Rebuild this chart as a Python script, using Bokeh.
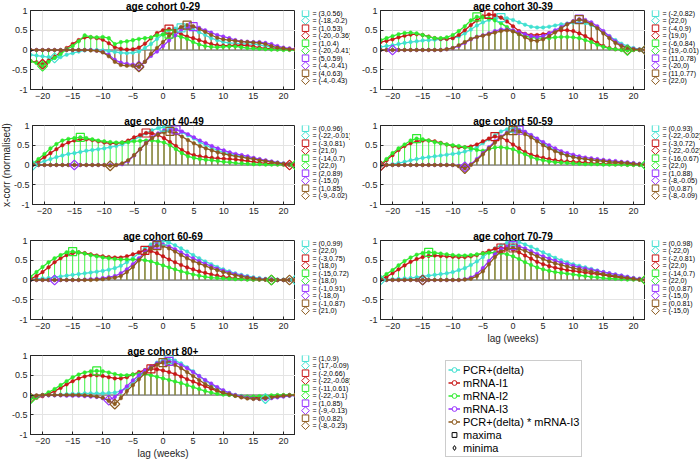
from bokeh.plotting import figure
from bokeh.layouts import row, column
from bokeh.models import (Range1d, FixedTicker, NumeralTickFormatter, Span, ColumnDataSource,
                          Legend, LegendItem, Title)
from bokeh.core.properties import value
from bokeh.embed import file_html
from bokeh.resources import INLINE

FONT = "Liberation Sans"
LAGS = list(range(-22, 23))
COHORTS = ["0-29", "30-39", "40-49", "50-59", "60-69", "70-79", "80+"]
SERIES = ["PCR+(delta)", "mRNA-I1", "mRNA-I2", "mRNA-I3", "PCR+(delta) * mRNA-I3"]
COLORS = ["#40E0D0", "#C81818", "#2EEB2E", "#9933FF", "#8C5A1E"]
STEM_COLORS = {2: "#44F044", 4: "#9A7442"}
STEM_WIDTHS = {2: 1.0, 4: 1.4}
X_TICKS = [-20, -15, -10, -5, 0, 5, 10, 15, 20]
Y_TICKS = [-1, -0.5, 0, 0.5, 1]

# ---------------- cohort 0-29 ----------------
pcr_0_29 = [-0.12, -0.14, -0.16, -0.18, -0.20, -0.18, -0.12, -0.08, -0.04, -0.01, 0.0, 0.0, -0.01, -0.03, -0.05,
            -0.07, -0.08, -0.07, -0.04, 0.05, 0.15, 0.28, 0.40, 0.50, 0.54, 0.56, 0.55, 0.52, 0.45, 0.38,
            0.30, 0.25, 0.20, 0.18, 0.17, 0.16, 0.15, 0.15, 0.13, 0.10, 0.07, 0.05, 0.03, 0.02, 0.01]
i1_0_29 = [-0.28, -0.31, -0.36, -0.27, -0.17, -0.06, 0.05, 0.15, 0.25, 0.32, 0.32, 0.30, 0.26, 0.17, 0.07,
           0.03, 0.01, 0.02, 0.06, 0.16, 0.30, 0.43, 0.50, 0.53, 0.48, 0.40, 0.34, 0.30, 0.25, 0.20,
           0.15, 0.12, 0.11, 0.11, 0.12, 0.12, 0.11, 0.09, 0.06, 0.04, 0.03, 0.02, 0.02, 0.02, 0.02]
i2_0_29 = [-0.28, -0.33, -0.41, -0.30, -0.20, -0.10, 0.02, 0.10, 0.22, 0.37, 0.33, 0.32, 0.33, 0.30, 0.15,
           0.20, 0.22, 0.25, 0.28, 0.30, 0.32, 0.37, 0.39, 0.40, 0.37, 0.33, 0.28, 0.20, 0.14, 0.10,
           0.08, 0.07, 0.08, 0.09, 0.09, 0.07, 0.05, 0.04, 0.03, 0.02, 0.01, 0.01, 0.0, 0.0, 0.0]
i3_0_29 = [0.0, 0.0, 0.0, 0.0, 0.0, 0.0, 0.0, 0.0, 0.0, 0.0, 0.0, -0.02, -0.05, -0.12, -0.25,
           -0.32, -0.35, -0.37, -0.41, -0.30, -0.15, -0.04, 0.10, 0.24, 0.37, 0.50, 0.57, 0.59, 0.56, 0.50,
           0.44, 0.38, 0.34, 0.30, 0.25, 0.22, 0.21, 0.20, 0.20, 0.18, 0.15, 0.10, 0.06, 0.04, 0.02]
prod_0_29 = [0.0, 0.0, 0.0, 0.0, 0.0, 0.0, 0.0, 0.0, 0.0, 0.0, -0.01, -0.02, -0.06, -0.16, -0.30,
             -0.38, -0.40, -0.40, -0.43, -0.30, -0.10, 0.05, 0.20, 0.35, 0.48, 0.58, 0.63, 0.60, 0.53, 0.46,
             0.38, 0.31, 0.27, 0.25, 0.23, 0.21, 0.20, 0.19, 0.18, 0.15, 0.10, 0.06, 0.04, 0.02, 0.01]
max_lag_0_29 = [3, 1, 1, 5, 4]
max_val_0_29 = [0.56, 0.53, 0.4, 0.59, 0.63]
min_lag_0_29 = [-18, -20, -20, -4, -4]
min_val_0_29 = [-0.2, -0.36, -0.41, -0.41, -0.43]

# ---------------- cohort 30-39 ----------------
pcr_30_39 = [0.08, 0.10, 0.12, 0.15, 0.18, 0.20, 0.22, 0.24, 0.25, 0.26, 0.27, 0.28, 0.30, 0.34, 0.42,
             0.52, 0.62, 0.70, 0.76, 0.80, 0.82, 0.80, 0.76, 0.70, 0.64, 0.59, 0.57, 0.57, 0.59, 0.62,
             0.65, 0.67, 0.69, 0.70, 0.68, 0.63, 0.55, 0.45, 0.35, 0.25, 0.16, 0.10, 0.05, 0.02, 0.0]
i1_30_39 = [0.20, 0.23, 0.27, 0.32, 0.36, 0.39, 0.40, 0.38, 0.34, 0.30, 0.28, 0.28, 0.30, 0.38, 0.50,
            0.63, 0.75, 0.85, 0.90, 0.88, 0.82, 0.72, 0.60, 0.48, 0.41, 0.38, 0.38, 0.40, 0.43, 0.47,
            0.50, 0.50, 0.48, 0.42, 0.35, 0.27, 0.18, 0.10, 0.05, 0.02, 0.01, 0.0, 0.0, 0.0, 0.0]
i2_30_39 = [0.25, 0.30, 0.35, 0.40, 0.43, 0.44, 0.42, 0.38, 0.33, 0.30, 0.30, 0.32, 0.38, 0.48, 0.60,
            0.75, 0.84, 0.83, 0.80, 0.75, 0.68, 0.58, 0.48, 0.40, 0.35, 0.32, 0.30, 0.30, 0.30, 0.32,
            0.33, 0.33, 0.32, 0.30, 0.25, 0.20, 0.13, 0.08, 0.04, 0.02, 0.0, -0.01, 0.0, 0.0, 0.0]
i3_30_39 = [0.0, 0.0, 0.0, 0.0, 0.0, 0.0, 0.0, 0.0, 0.0, 0.0, 0.0, 0.02, 0.05, 0.10, 0.18,
            0.27, 0.33, 0.37, 0.42, 0.48, 0.52, 0.52, 0.50, 0.45, 0.40, 0.35, 0.33, 0.35, 0.42, 0.50,
            0.58, 0.66, 0.73, 0.78, 0.76, 0.70, 0.60, 0.48, 0.35, 0.22, 0.12, 0.06, 0.03, 0.01, 0.0]
prod_30_39 = [0.0, 0.0, 0.0, 0.0, 0.0, 0.0, 0.0, 0.0, 0.0, 0.0, 0.0, 0.02, 0.05, 0.12, 0.20,
              0.28, 0.33, 0.36, 0.40, 0.44, 0.48, 0.50, 0.47, 0.40, 0.32, 0.25, 0.23, 0.27, 0.35, 0.45,
              0.55, 0.65, 0.72, 0.77, 0.73, 0.65, 0.55, 0.42, 0.30, 0.18, 0.10, 0.05, 0.02, 0.01, 0.0]
max_lag_30_39 = [-2, -4, -6, 11, 11]
max_val_30_39 = [0.82, 0.9, 0.84, 0.78, 0.77]
min_lag_30_39 = [22, 19, 19, -20, 22]
min_val_30_39 = [0.0, 0.0, -0.01, 0.0, 0.0]

# ---------------- cohort 40-49 ----------------
pcr_40_49 = [-0.01, 0.05, 0.10, 0.15, 0.20, 0.24, 0.28, 0.30, 0.33, 0.36, 0.38, 0.40, 0.42, 0.45, 0.48,
             0.52, 0.58, 0.65, 0.72, 0.80, 0.88, 0.93, 0.96, 0.95, 0.90, 0.83, 0.75, 0.67, 0.58, 0.50,
             0.43, 0.37, 0.32, 0.28, 0.25, 0.22, 0.19, 0.16, 0.13, 0.10, 0.08, 0.06, 0.04, 0.02, 0.01]
i1_40_49 = [0.02, 0.10, 0.20, 0.30, 0.40, 0.50, 0.57, 0.62, 0.65, 0.65, 0.63, 0.60, 0.57, 0.55, 0.55,
            0.57, 0.62, 0.70, 0.76, 0.81, 0.80, 0.76, 0.68, 0.58, 0.48, 0.38, 0.30, 0.25, 0.22, 0.20,
            0.18, 0.17, 0.16, 0.15, 0.14, 0.12, 0.10, 0.08, 0.06, 0.04, 0.03, 0.02, 0.01, 0.0, 0.01]
i2_40_49 = [0.03, 0.15, 0.28, 0.42, 0.53, 0.62, 0.66, 0.68, 0.70, 0.68, 0.65, 0.62, 0.60, 0.58, 0.57,
            0.57, 0.58, 0.60, 0.61, 0.62, 0.62, 0.60, 0.57, 0.50, 0.40, 0.30, 0.22, 0.18, 0.15, 0.13,
            0.12, 0.10, 0.08, 0.07, 0.05, 0.04, 0.03, 0.02, 0.02, 0.01, 0.01, 0.01, 0.01, 0.01, 0.0]
i3_40_49 = [0.0, 0.0, 0.0, 0.0, 0.0, 0.0, 0.0, 0.0, 0.0, 0.0, 0.0, 0.0, 0.0, 0.0, 0.0,
            0.02, 0.10, 0.24, 0.40, 0.56, 0.70, 0.80, 0.87, 0.88, 0.89, 0.85, 0.78, 0.70, 0.62, 0.55,
            0.48, 0.42, 0.37, 0.32, 0.28, 0.25, 0.22, 0.18, 0.15, 0.12, 0.09, 0.06, 0.04, 0.02, 0.01]
prod_40_49 = [0.0, 0.0, 0.0, 0.0, 0.0, 0.0, 0.0, 0.0, 0.0, 0.0, 0.0, 0.0, 0.0, -0.02, 0.0,
              0.04, 0.12, 0.25, 0.40, 0.55, 0.68, 0.78, 0.83, 0.85, 0.80, 0.72, 0.63, 0.55, 0.48, 0.42,
              0.37, 0.32, 0.28, 0.25, 0.22, 0.20, 0.17, 0.15, 0.12, 0.10, 0.07, 0.05, 0.03, 0.02, 0.01]
max_lag_40_49 = [0, -3, -14, 2, 1]
max_val_40_49 = [0.96, 0.81, 0.7, 0.89, 0.85]
min_lag_40_49 = [-22, 21, 22, -15, -9]
min_val_40_49 = [-0.01, 0.0, 0.0, 0.0, -0.02]

# ---------------- cohort 50-59 ----------------
pcr_50_59 = [-0.02, 0.0, 0.02, 0.05, 0.08, 0.12, 0.15, 0.18, 0.20, 0.22, 0.24, 0.26, 0.28, 0.30, 0.34,
             0.38, 0.45, 0.55, 0.65, 0.75, 0.85, 0.90, 0.93, 0.90, 0.83, 0.75, 0.65, 0.55, 0.45, 0.37,
             0.30, 0.25, 0.21, 0.18, 0.15, 0.13, 0.11, 0.10, 0.08, 0.07, 0.06, 0.05, 0.04, 0.02, 0.01]
i1_50_59 = [-0.02, 0.12, 0.25, 0.38, 0.48, 0.55, 0.60, 0.62, 0.62, 0.60, 0.56, 0.52, 0.48, 0.45, 0.45,
            0.47, 0.52, 0.60, 0.67, 0.72, 0.70, 0.62, 0.52, 0.42, 0.33, 0.26, 0.22, 0.18, 0.15, 0.12,
            0.10, 0.09, 0.08, 0.07, 0.06, 0.05, 0.04, 0.03, 0.03, 0.02, 0.02, 0.01, 0.01, 0.01, 0.0]
i2_50_59 = [0.01, 0.15, 0.30, 0.42, 0.52, 0.62, 0.67, 0.65, 0.62, 0.58, 0.55, 0.52, 0.50, 0.48, 0.45,
            0.42, 0.38, 0.36, 0.40, 0.44, 0.45, 0.43, 0.40, 0.33, 0.27, 0.20, 0.15, 0.12, 0.09, 0.07,
            0.06, 0.05, 0.04, 0.03, 0.02, 0.02, 0.02, 0.01, 0.01, 0.01, 0.01, 0.0, 0.0, 0.0, 0.0]
i3_50_59 = [0.0, 0.0, 0.0, 0.0, 0.0, 0.0, 0.0, 0.0, 0.0, 0.0, 0.0, 0.0, 0.0, -0.02, -0.05,
            0.02, 0.15, 0.30, 0.45, 0.60, 0.72, 0.82, 0.87, 0.88, 0.84, 0.76, 0.67, 0.58, 0.50, 0.42,
            0.35, 0.30, 0.26, 0.22, 0.19, 0.17, 0.15, 0.13, 0.11, 0.10, 0.08, 0.07, 0.05, 0.03, 0.02]
prod_50_59 = [0.0, 0.0, 0.0, 0.0, 0.0, 0.0, 0.0, 0.0, 0.0, 0.0, 0.0, 0.0, 0.0, -0.03, -0.09,
              0.0, 0.12, 0.27, 0.42, 0.57, 0.70, 0.80, 0.87, 0.85, 0.78, 0.70, 0.60, 0.50, 0.42, 0.35,
              0.29, 0.24, 0.20, 0.17, 0.15, 0.13, 0.11, 0.10, 0.08, 0.07, 0.06, 0.05, 0.03, 0.02, 0.01]
max_lag_50_59 = [0, -3, -16, 1, 0]
max_val_50_59 = [0.93, 0.72, 0.67, 0.88, 0.87]
min_lag_50_59 = [-22, -22, 22, -8, -8]
min_val_50_59 = [-0.02, -0.02, 0.0, -0.05, -0.09]

# ---------------- cohort 60-69 ----------------
pcr_60_69 = [0.02, 0.03, 0.04, 0.05, 0.07, 0.09, 0.11, 0.13, 0.15, 0.17, 0.19, 0.21, 0.23, 0.26, 0.30,
             0.36, 0.45, 0.55, 0.68, 0.80, 0.90, 0.96, 0.99, 0.95, 0.88, 0.80, 0.72, 0.63, 0.55, 0.47,
             0.40, 0.33, 0.27, 0.22, 0.17, 0.13, 0.10, 0.07, 0.05, 0.03, 0.02, 0.01, 0.01, 0.01, 0.0]
i1_60_69 = [0.03, 0.10, 0.20, 0.32, 0.45, 0.55, 0.63, 0.68, 0.70, 0.68, 0.65, 0.62, 0.60, 0.58, 0.57,
            0.57, 0.60, 0.65, 0.70, 0.75, 0.73, 0.68, 0.60, 0.52, 0.45, 0.38, 0.32, 0.27, 0.22, 0.18,
            0.14, 0.11, 0.08, 0.06, 0.04, 0.03, 0.02, 0.01, 0.01, 0.01, 0.0, 0.0, 0.0, 0.0, 0.0]
i2_60_69 = [0.08, 0.20, 0.33, 0.45, 0.55, 0.63, 0.70, 0.72, 0.70, 0.67, 0.63, 0.60, 0.57, 0.55, 0.53,
            0.52, 0.52, 0.52, 0.52, 0.50, 0.47, 0.42, 0.37, 0.32, 0.27, 0.22, 0.18, 0.14, 0.11, 0.08,
            0.06, 0.05, 0.04, 0.03, 0.02, 0.02, 0.01, 0.01, 0.01, 0.01, 0.0, 0.0, 0.0, 0.0, 0.0]
i3_60_69 = [0.0, 0.0, 0.0, 0.0, 0.0, 0.0, 0.0, 0.0, 0.0, 0.01, 0.02, 0.03, 0.05, 0.07, 0.10,
            0.17, 0.27, 0.40, 0.55, 0.70, 0.82, 0.91, 0.90, 0.85, 0.78, 0.70, 0.62, 0.55, 0.48, 0.41,
            0.35, 0.29, 0.24, 0.19, 0.15, 0.11, 0.08, 0.05, 0.03, 0.02, 0.01, 0.0, 0.0, 0.0, 0.0]
prod_60_69 = [0.0, 0.0, 0.0, 0.0, 0.0, 0.0, 0.0, 0.0, 0.0, 0.0, 0.0, 0.01, 0.02, 0.04, 0.06,
              0.10, 0.20, 0.33, 0.50, 0.67, 0.80, 0.87, 0.86, 0.80, 0.72, 0.63, 0.55, 0.48, 0.42, 0.36,
              0.30, 0.25, 0.20, 0.16, 0.12, 0.09, 0.06, 0.04, 0.02, 0.01, 0.0, 0.0, 0.0, 0.0, 0.0]
max_lag_60_69 = [0, -3, -15, -1, -1]
max_val_60_69 = [0.99, 0.75, 0.72, 0.91, 0.87]
min_lag_60_69 = [22, 18, 18, -18, 21]
min_val_60_69 = [0.0, 0.0, 0.0, 0.0, 0.0]

# ---------------- cohort 70-79 ----------------
pcr_70_79 = [0.0, 0.01, 0.02, 0.03, 0.04, 0.05, 0.07, 0.09, 0.11, 0.13, 0.15, 0.17, 0.20, 0.25, 0.30,
             0.38, 0.47, 0.58, 0.70, 0.80, 0.88, 0.94, 0.98, 0.96, 0.90, 0.84, 0.77, 0.70, 0.63, 0.56,
             0.50, 0.45, 0.40, 0.36, 0.32, 0.28, 0.24, 0.20, 0.17, 0.14, 0.11, 0.08, 0.05, 0.03, 0.01]
i1_70_79 = [0.02, 0.08, 0.17, 0.27, 0.37, 0.46, 0.53, 0.58, 0.61, 0.62, 0.61, 0.60, 0.59, 0.58, 0.58,
            0.60, 0.63, 0.68, 0.74, 0.79, 0.81, 0.80, 0.76, 0.70, 0.62, 0.54, 0.46, 0.40, 0.35, 0.31,
            0.28, 0.25, 0.23, 0.21, 0.19, 0.17, 0.15, 0.13, 0.10, 0.08, 0.06, 0.04, 0.02, 0.01, 0.0]
i2_70_79 = [0.05, 0.15, 0.25, 0.37, 0.48, 0.57, 0.64, 0.68, 0.70, 0.69, 0.67, 0.65, 0.63, 0.62, 0.62,
            0.63, 0.65, 0.67, 0.69, 0.69, 0.68, 0.65, 0.60, 0.53, 0.45, 0.38, 0.32, 0.27, 0.23, 0.20,
            0.18, 0.16, 0.14, 0.12, 0.10, 0.08, 0.07, 0.05, 0.04, 0.03, 0.02, 0.01, 0.01, 0.01, 0.0]
i3_70_79 = [0.0, 0.0, 0.0, 0.0, 0.0, 0.0, 0.0, 0.0, 0.0, 0.0, 0.0, 0.0, 0.0, 0.0, 0.02,
            0.06, 0.15, 0.30, 0.48, 0.65, 0.78, 0.85, 0.87, 0.85, 0.80, 0.73, 0.66, 0.60, 0.54, 0.49,
            0.44, 0.40, 0.36, 0.32, 0.29, 0.26, 0.23, 0.20, 0.17, 0.14, 0.11, 0.08, 0.05, 0.03, 0.01]
prod_70_79 = [0.0, 0.0, 0.0, 0.0, 0.0, 0.0, 0.0, 0.0, 0.0, 0.0, 0.0, 0.0, 0.0, 0.0, 0.01,
              0.03, 0.10, 0.22, 0.40, 0.58, 0.72, 0.79, 0.81, 0.79, 0.74, 0.67, 0.60, 0.53, 0.47, 0.42,
              0.38, 0.34, 0.30, 0.27, 0.24, 0.21, 0.18, 0.15, 0.12, 0.10, 0.07, 0.05, 0.03, 0.01, 0.0]
max_lag_70_79 = [0, -2, -14, 0, 0]
max_val_70_79 = [0.98, 0.81, 0.7, 0.87, 0.81]
min_lag_70_79 = [-22, 22, 22, -15, -15]
min_val_70_79 = [0.0, 0.0, 0.0, 0.0, 0.0]

# ---------------- cohort 80+ ----------------
pcr_80 = [-0.05, -0.03, -0.01, 0.0, 0.0, 0.01, 0.02, 0.03, 0.03, 0.04, 0.04, 0.04, 0.04, 0.05, 0.06,
          0.10, 0.18, 0.30, 0.45, 0.60, 0.72, 0.82, 0.88, 0.90, 0.87, 0.80, 0.70, 0.60, 0.48, 0.37,
          0.27, 0.18, 0.11, 0.05, 0.0, -0.03, -0.06, -0.08, -0.08, -0.09, -0.07, -0.05, -0.03, -0.02, -0.01]
i1_80 = [-0.08, -0.07, -0.03, 0.03, 0.10, 0.18, 0.27, 0.35, 0.42, 0.47, 0.50, 0.50, 0.48, 0.45, 0.42,
         0.42, 0.45, 0.52, 0.58, 0.63, 0.66, 0.65, 0.62, 0.58, 0.53, 0.47, 0.40, 0.34, 0.28, 0.22,
         0.16, 0.10, 0.05, 0.01, -0.02, -0.05, -0.07, -0.07, -0.07, -0.06, -0.04, -0.02, -0.01, 0.0, 0.0]
i2_80 = [-0.10, -0.06, 0.0, 0.07, 0.15, 0.25, 0.35, 0.45, 0.52, 0.57, 0.60, 0.61, 0.60, 0.57, 0.53,
         0.50, 0.50, 0.52, 0.54, 0.53, 0.50, 0.46, 0.42, 0.38, 0.34, 0.30, 0.25, 0.20, 0.15, 0.10,
         0.06, 0.03, 0.01, 0.0, -0.02, -0.03, -0.04, -0.04, -0.03, -0.02, -0.01, 0.0, 0.0, 0.0, 0.0]
i3_80 = [-0.03, -0.02, -0.01, -0.01, -0.01, -0.01, -0.02, -0.02, -0.02, -0.03, -0.04, -0.05, -0.08, -0.13, -0.05,
         0.08, 0.22, 0.37, 0.50, 0.62, 0.72, 0.80, 0.84, 0.85, 0.82, 0.76, 0.68, 0.58, 0.48, 0.38,
         0.29, 0.20, 0.12, 0.05, 0.0, -0.04, -0.07, -0.09, -0.10, -0.10, -0.08, -0.06, -0.04, -0.02, -0.01]
prod_80 = [-0.02, -0.01, 0.0, 0.0, 0.0, 0.0, 0.0, 0.0, 0.0, -0.01, -0.02, -0.04, -0.07, -0.15, -0.23,
           -0.08, 0.10, 0.25, 0.40, 0.55, 0.68, 0.77, 0.82, 0.81, 0.76, 0.68, 0.58, 0.48, 0.38, 0.28,
           0.20, 0.12, 0.06, 0.02, -0.02, -0.06, -0.09, -0.10, -0.10, -0.08, -0.06, -0.04, -0.02, -0.01, 0.0]
max_lag_80 = [1, -2, -11, 1, 0]
max_val_80 = [0.9, 0.66, 0.61, 0.85, 0.82]
min_lag_80 = [17, -22, -22, -9, -8]
min_val_80 = [-0.09, -0.08, -0.1, -0.13, -0.23]

DATA = {
    "0-29": [pcr_0_29, i1_0_29, i2_0_29, i3_0_29, prod_0_29],
    "30-39": [pcr_30_39, i1_30_39, i2_30_39, i3_30_39, prod_30_39],
    "40-49": [pcr_40_49, i1_40_49, i2_40_49, i3_40_49, prod_40_49],
    "50-59": [pcr_50_59, i1_50_59, i2_50_59, i3_50_59, prod_50_59],
    "60-69": [pcr_60_69, i1_60_69, i2_60_69, i3_60_69, prod_60_69],
    "70-79": [pcr_70_79, i1_70_79, i2_70_79, i3_70_79, prod_70_79],
    "80+": [pcr_80, i1_80, i2_80, i3_80, prod_80],
}
EXTREMA = {
    "0-29": (max_lag_0_29, max_val_0_29, min_lag_0_29, min_val_0_29),
    "30-39": (max_lag_30_39, max_val_30_39, min_lag_30_39, min_val_30_39),
    "40-49": (max_lag_40_49, max_val_40_49, min_lag_40_49, min_val_40_49),
    "50-59": (max_lag_50_59, max_val_50_59, min_lag_50_59, min_val_50_59),
    "60-69": (max_lag_60_69, max_val_60_69, min_lag_60_69, min_val_60_69),
    "70-79": (max_lag_70_79, max_val_70_79, min_lag_70_79, min_val_70_79),
    "80+": (max_lag_80, max_val_80, min_lag_80, min_val_80),
}

DIAMOND_ANGLE = 0.785398
FRAME_H = 79
TOP = 10
NAN = float("nan")


def fmt(v):
    s = f"{round(v, 2):g}"
    return "0" if s == "-0" else s


def make_panel(cohort, height, bottom, xlabel=None, ylabel=None):
    p = figure(width=295, height=height, x_range=Range1d(-22, 22), y_range=Range1d(-1, 1),
               output_backend="svg", toolbar_location=None,
               min_border_left=30, min_border_right=0, min_border_top=TOP, min_border_bottom=bottom)
    p.title.text = "age cohort " + cohort
    p.title.text_font = FONT
    p.title.text_font_size = "10px"
    p.title.text_font_style = "bold"
    p.title.text_color = "#000000"
    p.title.align = "center"
    p.title.standoff = -3
    p.outline_line_color = "#262626"
    p.outline_line_alpha = 1
    p.background_fill_color = "white"
    p.border_fill_color = "white"
    p.xaxis.ticker = FixedTicker(ticks=X_TICKS)
    p.yaxis.ticker = FixedTicker(ticks=Y_TICKS)
    p.yaxis.formatter = NumeralTickFormatter(format="0.[0]")
    for ax in (p.xaxis, p.yaxis):
        ax.major_tick_in = 3
        ax.major_tick_out = 0
        ax.minor_tick_line_color = None
        ax.axis_line_color = "#262626"
        ax.major_tick_line_color = "#262626"
        ax.major_label_text_font = FONT
        ax.major_label_text_font_size = "9px"
        ax.major_label_text_color = "#262626"
        ax.major_label_standoff = 3
    p.xgrid.grid_line_color = "#E4E4E4"
    p.ygrid.grid_line_color = "#E4E4E4"
    if xlabel:
        p.add_layout(Title(text=xlabel, align="center", text_font=FONT, text_font_size="10px",
                           text_font_style="normal", text_color="#262626", standoff=-1), "below")
    if ylabel:
        p.add_layout(Title(text=ylabel, align="center", text_font=FONT, text_font_size="10px",
                           text_font_style="normal", text_color="#262626", standoff=-3), "left")

    series = DATA[cohort]
    for j in (2, 4):
        src = ColumnDataSource(dict(lag=LAGS, v=series[j]))
        p.segment(x0="lag", y0=0, x1="lag", y1="v", source=src,
                  line_color=STEM_COLORS[j], line_width=STEM_WIDTHS[j])
    p.add_layout(Span(location=0, dimension="width", line_color="#555555", line_width=1, level="underlay"))
    for j in range(5):
        src = ColumnDataSource(dict(lag=LAGS, v=series[j]))
        p.line("lag", "v", source=src, line_color=COLORS[j], line_width=1.3)
        p.scatter("lag", "v", source=src, marker="circle", size=3.6,
                  fill_color=COLORS[j], line_color=COLORS[j], line_width=0.5)
    mx_l, mx_v, mn_l, mn_v = EXTREMA[cohort]
    for j in range(5):
        p.scatter([mx_l[j]], [mx_v[j]], marker="square", size=8, fill_color=None,
                  line_color=COLORS[j], line_width=1.2)
        p.scatter([mn_l[j]], [mn_v[j]], marker="square", angle=DIAMOND_ANGLE, size=7, fill_color=None,
                  line_color=COLORS[j], line_width=1.2)
    return p


def make_side_legend(cohort, height, bottom):
    lg = figure(width=55, height=height, x_range=Range1d(0, 55), y_range=Range1d(FRAME_H, 0),
                output_backend="svg", toolbar_location=None,
                min_border_left=0, min_border_right=0, min_border_top=TOP, min_border_bottom=bottom,
                x_axis_location=None, y_axis_location=None)
    lg.grid.visible = False
    lg.outline_line_color = None
    mx_l, mx_v, mn_l, mn_v = EXTREMA[cohort]
    ys, labels = [], []
    for j in range(5):
        y_max = 2.7 + 15.0 * j
        y_min = y_max + 7.5
        lg.scatter([10], [y_max], marker="square", size=6.5, fill_color=None,
                   line_color=COLORS[j], line_width=1)
        lg.scatter([10], [y_min], marker="square", angle=DIAMOND_ANGLE, size=5.5, fill_color=None,
                   line_color=COLORS[j], line_width=1)
        ys += [y_max, y_min]
        labels += [f"= ({mx_l[j]},{fmt(mx_v[j])})", f"= ({mn_l[j]},{fmt(mn_v[j])})"]
    lg.text(x=[17] * len(ys), y=ys, text=labels, text_font=value(FONT), text_font_size="7px",
            text_baseline="middle", text_align="left", text_color="#000000")
    return lg


def make_main_legend(height):
    f = figure(width=350, height=height, x_range=Range1d(0, 1), y_range=Range1d(0, 1),
               output_backend="svg", toolbar_location=None, min_border=0, frame_align=False,
               x_axis_location=None, y_axis_location=None)
    f.grid.visible = False
    f.outline_line_color = None
    items = []
    for j in range(5):
        r1 = f.line(x=[NAN], y=[NAN], line_color=COLORS[j], line_width=1.5)
        r2 = f.scatter(x=[NAN], y=[NAN], marker="circle", size=4, fill_color="white",
                       line_color=COLORS[j], line_width=1)
        items.append(LegendItem(label=SERIES[j], renderers=[r1, r2]))
    rmax = f.scatter(x=[NAN], y=[NAN], marker="square", size=7, fill_color=None,
                     line_color="black", line_width=1)
    rmin = f.scatter(x=[NAN], y=[NAN], marker="diamond", size=9, fill_color=None,
                     line_color="black", line_width=1)
    items.append(LegendItem(label="maxima", renderers=[rmax]))
    items.append(LegendItem(label="minima", renderers=[rmin]))
    leg = Legend(items=items, location=(95, 4), padding=2, spacing=0, margin=0,
                 label_height=13, glyph_height=13, glyph_width=12, label_standoff=3,
                 label_text_font=FONT, label_text_font_size="11px", label_text_color="#000000",
                 border_line_color="#9A9A9A", border_line_width=1, background_fill_color="white",
                 background_fill_alpha=1)
    f.add_layout(leg)
    return f


slots = []
for idx, c in enumerate(COHORTS):
    last_row = idx == 6
    h = 116 if last_row else 115
    b = 27 if last_row else 26
    xl = "lag (weeks)" if c in ("70-79", "80+") else None
    yl = "x-corr (normalised)" if c == "40-49" else None
    slots.append((make_panel(c, h, b, xl, yl), make_side_legend(c, h, b)))

rows = []
for r in range(3):
    a, b = slots[2 * r], slots[2 * r + 1]
    rows.append(row(a[0], a[1], b[0], b[1]))
rows.append(row(slots[6][0], slots[6][1], make_main_legend(116)))
layout = column(*rows)

open("out.html", "w").write(file_html(layout, INLINE))
